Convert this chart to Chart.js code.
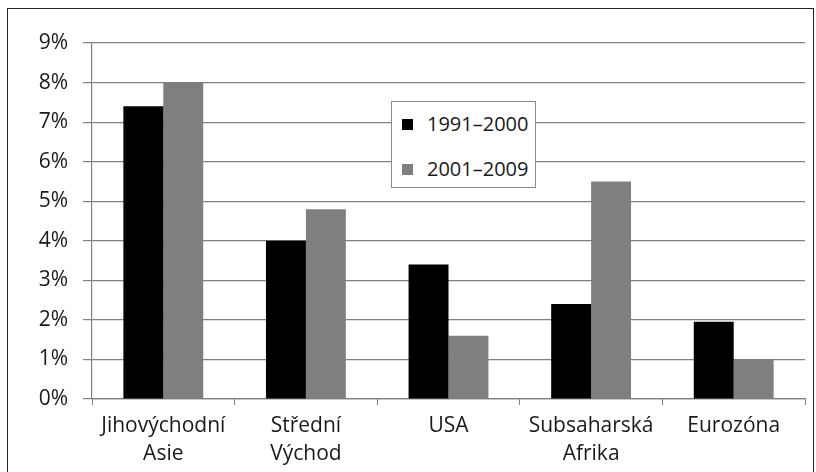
<!DOCTYPE html>
<html>
<head>
<meta charset="utf-8">
<script src="https://cdn.jsdelivr.net/npm/chart.js@4"></script>
<style>
  html, body { margin: 0; padding: 0; background: #fff; overflow: hidden; }
  #wrap { position: relative; width: 816px; height: 472px; }
  #frame { position: absolute; left: 7px; top: 8px; width: 807px; height: 480px; border: 1.5px solid #222; box-sizing: border-box; }
  #chart { position: absolute; left: 0; top: 0; }
  #legend { position: absolute; left: 391px; top: 101px; width: 145px; height: 87px; box-sizing: border-box;
            background: #fff; border: 1px solid #8a8a8a; font-family: "Open Sans", sans-serif; font-size: 20px; color: #1a1a1a; }
  .item { position: absolute; left: 10px; height: 26px; line-height: 26px; white-space: nowrap; }
  .item span.box { display: inline-block; width: 11px; height: 11px; margin-right: 14px; vertical-align: 1px; }
</style>
</head>
<body>
<div id="wrap">
  <canvas id="chart" width="816" height="472"></canvas>
  <div id="frame"></div>
  <div id="legend"></div>
</div>
<script>
// Data
const categories = [["Jihovýchodní", "Asie"], ["Střední", "Východ"], "USA", ["Subsaharská", "Afrika"], "Eurozóna"];
const seriesNames = ["1991–2000", "2001–2009"];
const values1991 = [7.4, 4.0, 3.4, 2.4, 1.95];
const values2001 = [8.0, 4.8, 1.6, 5.5, 1.0];
const yTicks = [0, 1, 2, 3, 4, 5, 6, 7, 8, 9];
const colors = ["#000000", "#7f7f7f"];

document.addEventListener("DOMContentLoaded", () => {
    const font = { family: "Open Sans", size: 21, lineHeight: 1.33 };
    const ctx = document.getElementById("chart").getContext("2d");

    new Chart(ctx, {
        type: "bar",
        data: {
            labels: categories,
            datasets: [
                { label: seriesNames[0], data: values1991, backgroundColor: colors[0] },
                { label: seriesNames[1], data: values2001, backgroundColor: colors[1] }
            ]
        },
        options: {
            responsive: false,
            animation: false,
            categoryPercentage: 0.56,
            barPercentage: 1.0,
            layout: { padding: { left: 0, right: 11, top: 43, bottom: 0 } },
            plugins: { legend: { display: false }, tooltip: { enabled: false } },
            scales: {
                x: {
                    grid: { offset: true, drawOnChartArea: false, drawTicks: true, tickLength: 6, color: "#808080" },
                    border: { color: "#808080", width: 1.2 },
                    ticks: { color: "#1a1a1a", font: font, padding: 7, maxRotation: 0, autoSkip: false },
                    afterFit: scale => { scale.height = 73; }
                },
                y: {
                    min: 0,
                    max: 9,
                    afterBuildTicks: scale => { scale.ticks = yTicks.map(v => ({ value: v })); },
                    grid: { color: "#808080", lineWidth: 1.2, tickLength: 9 },
                    border: { color: "#808080", width: 1.2 },
                    ticks: { color: "#1a1a1a", font: font, padding: 15, callback: v => v + "%" },
                    afterFit: scale => { scale.width = 92; }
                }
            }
        }
    });

    // Legend inside the plot
    const legend = document.getElementById("legend");
    seriesNames.forEach((name, i) => {
        const item = document.createElement("div");
        item.className = "item";
        item.style.top = (9 + i * 45) + "px";
        item.innerHTML = `<span class="box" style="background:${colors[i]}"></span>${name}`;
        legend.appendChild(item);
    });
});
</script>
</body>
</html>
